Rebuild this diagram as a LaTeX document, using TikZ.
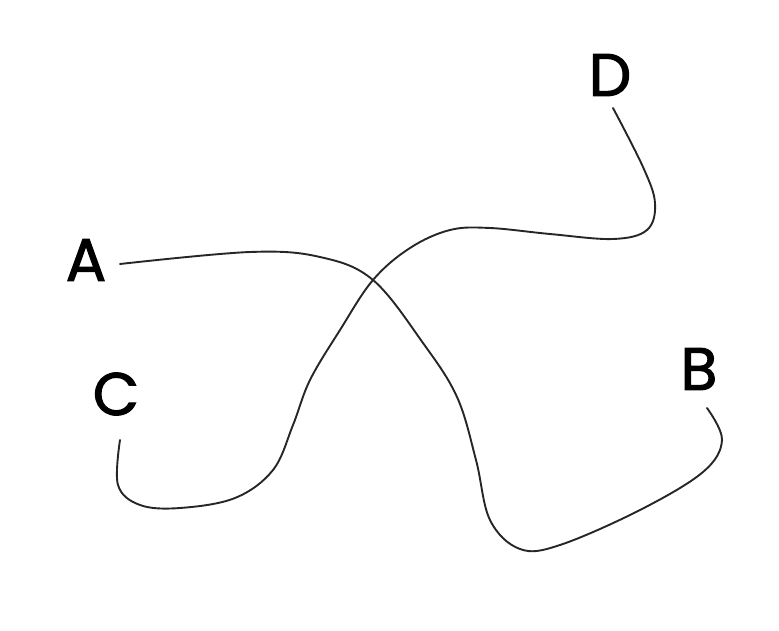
\documentclass[tikz,border=0pt]{standalone}
\usepackage{fontspec}
\newfontfamily\lblfont{Poppins}[FakeBold=1.8]
\begin{document}
\begin{tikzpicture}[x=1pt,y=-1pt,
  lbl/.style={inner sep=0pt, font=\fontsize{60}{64}\lblfont},
  wire/.style={line width=1.9pt, draw=black!85, line cap=round}]
\useasboundingbox (0,0) rectangle (779,631);
\node[lbl] (A) at (86,260) {A};
\node[lbl] (B) at (699,369) {B};
\node[lbl] (C) at (116,394) {C};
\node[lbl] (D) at (610,75) {D};
\coordinate (a0) at (120,264);
\coordinate (b0) at (707,408);
\coordinate (c0) at (120,440);
\coordinate (d0) at (613,108);
\draw[wire] plot[smooth, tension=0.6] coordinates {(a0) (250,252) (320,257) (373,280) (423,343) (457,397) (476,460) (490,520) (520,549) (560,545) (640,510) (703,472) (722,440) (b0)};
\draw[wire] plot[smooth, tension=0.6] coordinates {(c0) (118,485) (140,505) (180,508) (235,498) (273,470) (293,425) (310,380) (340,330) (373,280) (410,248) (450,230) (490,228) (550,234) (613,239) (647,230) (655,203) (643,167) (d0)};
\end{tikzpicture}
\end{document}
